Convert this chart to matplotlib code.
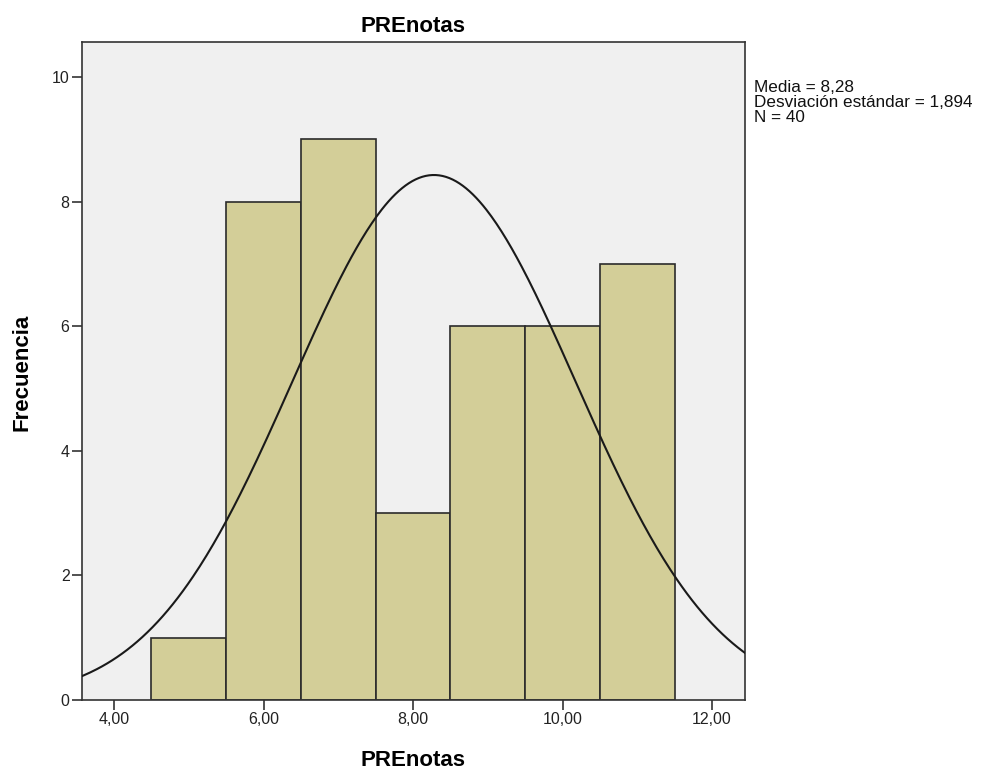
import numpy as np
import matplotlib
matplotlib.use('Agg')
import matplotlib.pyplot as plt

plt.rcParams['font.family'] = ['Liberation Sans', 'DejaVu Sans']

# Datos del histograma
bin_edges = [4.5, 5.5, 6.5, 7.5, 8.5, 9.5, 10.5, 11.5]
frecuencias = [1, 8, 9, 3, 6, 6, 7]
media = 8.28
desv = 1.894
n = 40
x_ticks = [4, 6, 8, 10, 12]
x_tick_labels = ['4,00', '6,00', '8,00', '10,00', '12,00']
y_ticks = [0, 2, 4, 6, 8, 10]

fig = plt.figure(figsize=(9.84, 7.76), dpi=100)
ax = fig.add_axes([82 / 984, 76 / 776, 663 / 984, 658 / 776])
ax.set_facecolor('#f0f0f0')

lefts = np.array(bin_edges[:-1])
widths = np.diff(bin_edges)
ax.bar(lefts, frecuencias, width=widths, align='edge', color='#d3ce98',
       edgecolor='#2b2b2b', linewidth=1.2, zorder=2)

# Curva normal
xs = np.linspace(3.5, 12.5, 400)
ys = n * 1.0 * np.exp(-0.5 * ((xs - media) / desv) ** 2) / (desv * np.sqrt(2 * np.pi))
ax.plot(xs, ys, color='#1a1a1a', linewidth=1.5, zorder=3)

ax.set_xlim(3.572, 12.44)
ax.set_ylim(0, 10.56)
ax.set_xticks(x_ticks)
ax.set_xticklabels(x_tick_labels)
ax.set_yticks(y_ticks)
ax.tick_params(axis='both', labelsize=11.5, length=7, width=1.2, color='#333333',
               labelcolor='#222222', pad=2)
for s in ax.spines.values():
    s.set_linewidth(1.2)
    s.set_color('#333333')

fig.text(413 / 984, 1 - 26 / 776, 'PREnotas', fontsize=16, fontweight='bold',
         ha='center', va='center')
fig.text(413 / 984, 1 - 760 / 776, 'PREnotas', fontsize=16, fontweight='bold',
         ha='center', va='center')
fig.text(22 / 984, 1 - 372 / 776, 'Frecuencia', fontsize=16, fontweight='bold',
         ha='center', va='center', rotation=90)

fig.text(754 / 984, 1 - 80 / 776,
         'Media = 8,28\nDesviación estándar = 1,894\nN = 40',
         fontsize=12.3, va='top', ha='left', linespacing=1.02, color='#111111')

fig.savefig('out.png', dpi=100)
